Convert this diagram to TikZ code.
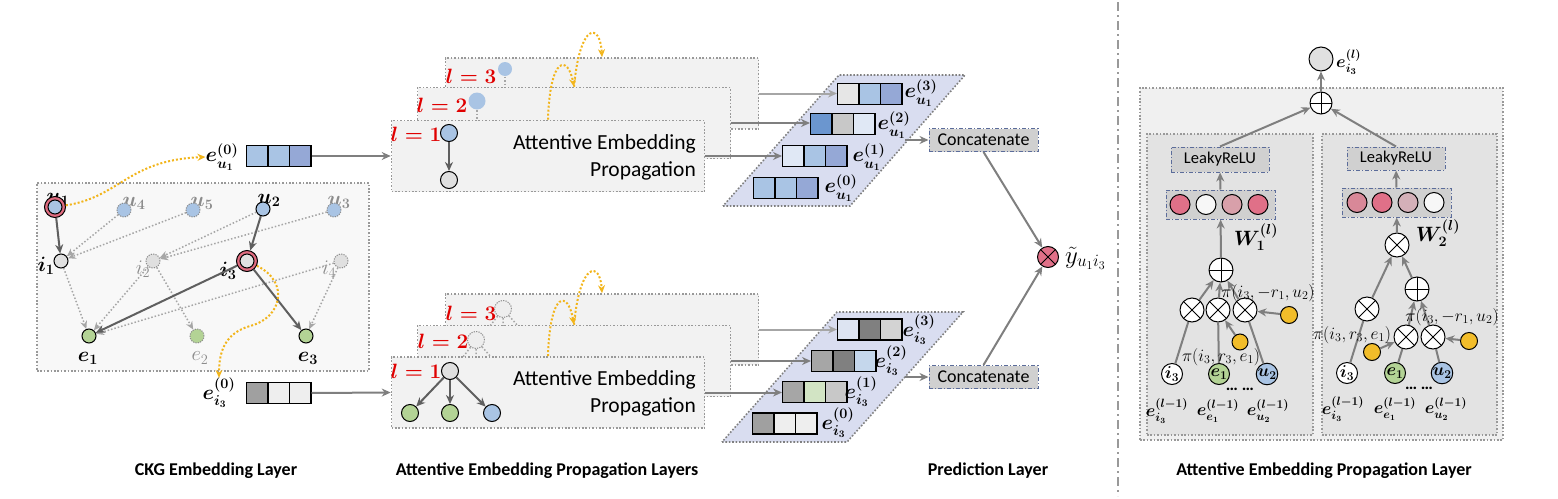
\documentclass[tikz,border=0pt]{standalone}
\usepackage{amsmath, amssymb}
\usepackage[no-math]{fontspec}
\setmainfont{Carlito}
\usepackage{tikz}
\usetikzlibrary{positioning,arrows.meta}

\definecolor{nodeblue}{HTML}{A9C4E4}
\definecolor{nodegreen}{HTML}{B3D395}
\definecolor{nodegray}{HTML}{E0E0E0}
\definecolor{ringred}{HTML}{E06C80}
\definecolor{gold}{HTML}{F2B51C}
\definecolor{lineg}{HTML}{7F7F7F}
\definecolor{darkline}{HTML}{5F5F5F}
\definecolor{ckgfill}{HTML}{F8F8F8}
\definecolor{boxgray}{HTML}{F2F2F2}
\definecolor{lavender}{HTML}{D9DDF0}
\definecolor{slate}{HTML}{5B6C9A}
\definecolor{opgray}{HTML}{D0D0D0}
\definecolor{outerfill}{HTML}{F0F0F0}
\definecolor{innerfill}{HTML}{E3E3E3}
\definecolor{lred}{HTML}{E00000}
\definecolor{vblue}{HTML}{A9C4E4}
\definecolor{vperi}{HTML}{95A8D6}
\definecolor{vpale}{HTML}{E0E8F5}
\definecolor{vmid}{HTML}{6B96CF}
\definecolor{vgray}{HTML}{C8C8C8}
\definecolor{vlight}{HTML}{E6E6E6}
\definecolor{vdark}{HTML}{808080}
\definecolor{vmgray}{HTML}{A6A6A6}
\definecolor{vgreen}{HTML}{D2E4C4}
\definecolor{vsky}{HTML}{C5D7EC}
\definecolor{vwhite}{HTML}{EEEEEE}
\definecolor{vice}{HTML}{DDE4F2}
\definecolor{vsilver}{HTML}{D3D3D3}
\definecolor{vash}{HTML}{A0A0A0}
\definecolor{pinka}{HTML}{E07088}
\definecolor{pinkb}{HTML}{D8A0AA}
\definecolor{pinkc}{HTML}{D88898}
\definecolor{pinkd}{HTML}{D4B0B8}
\definecolor{whitec}{HTML}{F7F7F7}
\definecolor{yellowc}{HTML}{F2BD2A}

\tikzset{main node/.style={circle,draw,line width=1pt,minimum size=14,inner sep=0pt}}
\tikzset{ghost node/.style={main node,draw=black!45,dash pattern=on 1.2pt off 1.2pt}}
\tikzset{ring node/.style={main node,fill=ringred,minimum size=21}}
\tikzset{op node/.style={circle,draw,line width=1pt,fill=white,minimum size=24,inner sep=0pt}}
\tikzset{times node/.style={op node,path picture={\draw[line width=1pt]
  (path picture bounding box.north west) -- (path picture bounding box.south east)
  (path picture bounding box.north east) -- (path picture bounding box.south west);}}}
\tikzset{plus node/.style={op node,path picture={\draw[line width=1pt]
  (path picture bounding box.north) -- (path picture bounding box.south)
  (path picture bounding box.east) -- (path picture bounding box.west);}}}
\tikzset{cell/.style={draw,line width=1.2pt,minimum width=21.3,minimum height=21,inner sep=0pt}}
\tikzset{dot box/.style={draw=black!40,line width=1.6pt,dash pattern=on 1.6pt off 1.8pt,inner sep=0pt}}
\tikzset{prop box/.style={dot box,fill=boxgray,minimum width=313,minimum height=71}}
\tikzset{op box/.style={draw=slate,fill=opgray,line width=1pt,dash pattern=on 4pt off 2pt on 1pt off 2pt,minimum height=23,inner sep=0pt}}
\tikzset{link/.style={draw=lineg,line width=2pt,-{Stealth[length=9pt,width=8pt]}}}
\tikzset{plain link/.style={draw=lineg,line width=2pt}}
\tikzset{solid link/.style={draw=darkline,line width=2pt,-{Stealth[length=9pt,width=8pt]}}}
\tikzset{dot link/.style={draw=black!35,line width=1.5pt,dash pattern=on 1.5pt off 2pt,-{Stealth[length=8pt,width=7pt]}}}
\tikzset{ghost link/.style={draw=black!35,line width=1.5pt,dash pattern=on 1.5pt off 2pt}}
\tikzset{gold link/.style={draw=gold,line width=2pt,dash pattern=on 2pt off 2pt,-{Stealth[length=8pt,width=7pt]}}}
\tikzset{math lbl/.style={inner sep=0pt,font=\fontsize{22}{24}\selectfont}}
\tikzset{emb lbl/.style={inner sep=0pt,font=\fontsize{20.5}{22}\selectfont}}
\tikzset{small lbl/.style={inner sep=0pt,font=\fontsize{17}{19}\selectfont}}
\tikzset{in lbl/.style={font=\fontsize{17}{19}\selectfont}}
\tikzset{layer lbl/.style={inner sep=0pt,text=lred,font=\fontsize{21}{24}\selectfont}}
\tikzset{title lbl/.style={inner sep=0pt,font=\bfseries\fontsize{18}{21}\selectfont}}

% three cells of one embedding
\newcommand{\vecrow}[5]{%
  \node[cell,fill=#3,anchor=west] (#1-1) at (#2) {};
  \node[cell,fill=#4,right=-1pt of #1-1] (#1-2) {};
  \node[cell,fill=#5,right=-1pt of #1-2] (#1-3) {};
}

\begin{document}
\begin{tikzpicture}[x=1pt,y=-1pt]
\useasboundingbox (0,0) rectangle (1558,498);

% CKG embedding layer
\node[dot box,fill=ckgfill,minimum width=332,minimum height=188] (ckg) at (203,277) {};
\node[math lbl] (lu1) at (58,199) {$\boldsymbol{u_1}$};
\node[math lbl,text=black!45] (lu4) at (134,203) {$\boldsymbol{u_4}$};
\node[math lbl,text=black!45] (lu5) at (202,203) {$\boldsymbol{u_5}$};
\node[math lbl] (lu2) at (269,200) {$\boldsymbol{u_2}$};
\node[math lbl,text=black!45] (lu3) at (339,202) {$\boldsymbol{u_3}$};
\node[math lbl] (li1) at (46,266) {$\boldsymbol{i_1}$};
\node[math lbl,text=black!45] (li2) at (143,269) {$i_2$};
\node[math lbl] (li3) at (228,271) {$\boldsymbol{i_3}$};
\node[math lbl,text=black!45] (li4) at (329,269) {$i_4$};
\node[math lbl] (le1) at (88,358) {$\boldsymbol{e_1}$};
\node[math lbl,text=black!45] (le2) at (200,358) {$e_2$};
\node[math lbl] (le3) at (308,358) {$\boldsymbol{e_3}$};

\node[ring node] (u1) at (55,207) {};
\node[main node,fill=nodeblue] (u1c) at (u1) {};
\node[ghost node,fill=nodeblue] (u4) at (124,210) {};
\node[ghost node,fill=nodeblue] (u5) at (193,210) {};
\node[main node,fill=nodeblue] (u2) at (263,209) {};
\node[ghost node,fill=nodeblue] (u3) at (334,210) {};
\node[main node,fill=nodegray] (i1) at (61,261) {};
\node[ghost node,fill=nodegray] (i2) at (153,261) {};
\node[ring node] (i3) at (247,261) {};
\node[main node,fill=nodegray] (i3c) at (i3) {};
\node[ghost node,fill=nodegray] (i4) at (341,261) {};
\node[main node,fill=nodegreen] (e1) at (89,336) {};
\node[ghost node,fill=nodegreen] (e2) at (197,336) {};
\node[main node,fill=nodegreen] (e3) at (306,336) {};

\draw[dot link] (u4) -- (i1);
\draw[dot link] (u5) -- (i1);
\draw[dot link] (u2) -- (i2);
\draw[dot link] (u3) -- (i2);
\draw[dot link] (i1) -- (e1);
\draw[dot link] (i2) -- (e1);
\draw[dot link] (i2) -- (e2);
\draw[dot link] (i4) -- (e1);
\draw[dot link] (i4) -- (e3);
\draw[solid link] (u1) -- (i1);
\draw[solid link] (u2) -- (i3);
\draw[solid link] (i3) -- (e1);
\draw[solid link] (i3) -- (e3);

% initial embeddings
\node[emb lbl] (eu0lbl) at (222,157) {$\boldsymbol{e_{u_1}^{(0)}}$};
\vecrow{eu}{246,156}{vblue}{vblue}{vperi}
\node[emb lbl] (ei0lbl) at (219,393) {$\boldsymbol{e_{i_3}^{(0)}}$};
\vecrow{ei}{246,393}{vash}{vwhite}{vwhite}
\draw[gold link] (u1) .. controls (120,197) and (128,160) .. (eu0lbl.west);
\draw[gold link] (i3) .. controls (290,282) and (282,318) .. (250,326) .. controls (226,333) and (219,350) .. (ei0lbl.north);

% propagation layers, user side
\node[prop box] (tb3) at (602,93.5) {};
\node[layer lbl] (tl3) at (471,76) {$\boldsymbol{l=3}$};
\node[main node,fill=nodeblue,draw=none] (tg3) at (505,69) {};
\coordinate (tg3s) at (505,90);
\draw[ghost link] (tg3) -- (tg3s);
\node[prop box] (tb2) at (574,123) {};
\node[layer lbl] (tl2) at (442,105) {$\boldsymbol{l=2}$};
\node[main node,fill=nodeblue,draw=none,minimum size=17] (tg2) at (477,101) {};
\coordinate (tg2s) at (477,121);
\draw[ghost link] (tg2) -- (tg2s);
\node[prop box] (tb1) at (548,156) {};
\node[layer lbl] (tl1) at (416,134) {$\boldsymbol{l=1}$};
\node[main node,fill=nodeblue,minimum size=17] (ta) at (449,133) {};
\node[main node,fill=nodegray,minimum size=17] (tb) at (449,180) {};
\draw[solid link] (ta) -- (tb);
\node[align=right,anchor=east,inner sep=0pt,font=\fontsize{21.5}{27}\selectfont] (ttxt) at (696,157) {Attentive Embedding\\Propagation};
\draw[gold link] (tb1.north) .. controls (550,55) and (568,55) .. (tb2.north);
\draw[gold link] (tb2.north) .. controls (580,22) and (600,22) .. (tb3.north);
\draw[link] (eu-3.east) -- (tb1.west);

% propagation layers, item side
\node[prop box] (bb3) at (602,329.5) {};
\node[layer lbl] (bl3) at (471,313) {$\boldsymbol{l=3}$};
\node[ghost node,fill=vwhite,minimum size=17] (bg3) at (503,309) {};
\coordinate (bg3a) at (490,326);
\coordinate (bg3b) at (503,326);
\coordinate (bg3c) at (518,326);
\draw[ghost link] (bg3) -- (bg3a) (bg3) -- (bg3b) (bg3) -- (bg3c);
\node[prop box] (bb2) at (574,361) {};
\node[layer lbl] (bl2) at (443,341) {$\boldsymbol{l=2}$};
\node[ghost node,fill=vwhite,minimum size=17] (bg2) at (476,340) {};
\coordinate (bg2a) at (463,357);
\coordinate (bg2b) at (476,357);
\coordinate (bg2c) at (491,357);
\draw[ghost link] (bg2) -- (bg2a) (bg2) -- (bg2b) (bg2) -- (bg2c);
\node[prop box] (bb1) at (548,392.5) {};
\node[layer lbl] (bl1) at (416,371) {$\boldsymbol{l=1}$};
\node[main node,fill=nodegray,minimum size=17] (ba) at (450,371) {};
\node[main node,fill=nodegreen,minimum size=17] (bc1) at (410,413) {};
\node[main node,fill=nodegreen,minimum size=17] (bc2) at (450,413) {};
\node[main node,fill=nodeblue,minimum size=17] (bc3) at (492,413) {};
\draw[solid link] (ba) -- (bc1);
\draw[solid link] (ba) -- (bc2);
\draw[solid link] (ba) -- (bc3);
\node[align=right,anchor=east,inner sep=0pt,font=\fontsize{21.5}{27}\selectfont] (btxt) at (696,393.5) {Attentive Embedding\\Propagation};
\draw[gold link] (bb1.north) .. controls (550,290) and (568,290) .. (bb2.north);
\draw[gold link] (bb2.north) .. controls (580,261) and (600,261) .. (bb3.north);
\draw[link] (ei-3.east) -- (bb1.west);

% layer-wise embeddings
\filldraw[fill=lavender,draw=black!50,line width=1.6pt,dash pattern=on 1.6pt off 1.8pt]
  (723,206) -- (850,206) -- (965,75) -- (839,75) -- cycle;
\vecrow{su3}{837,94}{vlight}{vblue}{vperi}
\vecrow{su2}{810,124}{vmid}{vgray}{vpale}
\vecrow{su1}{782,156}{vpale}{vblue}{vperi}
\vecrow{su0}{753,188}{vblue}{vblue}{vperi}
\node[emb lbl] (lsu3) at (921,93) {$\boldsymbol{e_{u_1}^{(3)}}$};
\node[emb lbl] (lsu2) at (894,125) {$\boldsymbol{e_{u_1}^{(2)}}$};
\node[emb lbl] (lsu1) at (869,157) {$\boldsymbol{e_{u_1}^{(1)}}$};
\node[emb lbl] (lsu0) at (841,188) {$\boldsymbol{e_{u_1}^{(0)}}$};
\draw[link,draw=black!35] (tb3.east) -- (tb3.east -| su3-1.west);
\draw[link] (tb2.east) -- (tb2.east -| su2-1.west);
\draw[link] (tb1.east) -- (tb1.east -| su1-1.west);

\filldraw[fill=lavender,draw=black!50,line width=1.6pt,dash pattern=on 1.6pt off 1.8pt]
  (722,442) -- (847,442) -- (963,312) -- (837,312) -- cycle;
\vecrow{si3}{837,329.5}{vice}{vdark}{vsilver}
\vecrow{si2}{811,361}{vmgray}{vdark}{vsky}
\vecrow{si1}{782,392}{vmgray}{vgreen}{vgray}
\vecrow{si0}{752,423.5}{vash}{vwhite}{vwhite}
\node[emb lbl] (lsi3) at (919,330) {$\boldsymbol{e_{i_3}^{(3)}}$};
\node[emb lbl] (lsi2) at (891,361) {$\boldsymbol{e_{i_3}^{(2)}}$};
\node[emb lbl] (lsi1) at (861,392) {$\boldsymbol{e_{i_3}^{(1)}}$};
\node[emb lbl] (lsi0) at (838,423) {$\boldsymbol{e_{i_3}^{(0)}}$};
\draw[link,draw=black!35] (bb3.east) -- (bb3.east -| si3-1.west);
\draw[link] (bb2.east) -- (bb2.east -| si2-1.west);
\draw[link] (bb1.east) -- (bb1.east -| si1-1.west);

% prediction layer
\node[op box,minimum width=109,font=\fontsize{18}{21}\selectfont] (catu) at (983.5,140) {Concatenate};
\node[op box,minimum width=109,font=\fontsize{18}{21}\selectfont] (cati) at (983.5,377) {Concatenate};
\coordinate (pu) at (905,140);
\coordinate (pi) at (905,377);
\draw[link,line width=1.6pt] (pu) -- (catu);
\draw[link,line width=1.6pt] (pi) -- (cati);
\node[times node,fill=pinka,minimum size=21] (pred) at (1048,257) {};
\node[inner sep=0pt,anchor=west,font=\fontsize{24}{26}\selectfont] (ylbl) at (1065,258) {$\tilde{y}_{u_1 i_3}$};
\draw[link] (catu.south) -- (pred);
\draw[link] (cati.north) -- (pred);

% separator
\draw[black!40,line width=1.2pt,dash pattern=on 9pt off 4pt on 2pt off 4pt] (1118,2) -- (1118,496);

% one propagation layer
\node[dot box,fill=outerfill,minimum width=363,minimum height=352] (apl) at (1321.5,264) {};
\node[dot box,fill=innerfill,minimum width=166,minimum height=301] (agg1) at (1230,284.5) {};
\node[dot box,fill=innerfill,minimum width=175,minimum height=301] (agg2) at (1409.5,284.5) {};
\node[main node,fill=nodegray,minimum size=24] (top) at (1321,59) {};
\node[emb lbl,anchor=west,font=\fontsize{18}{20}\selectfont] (ltop) at (1336,62) {$\boldsymbol{e_{i_3}^{(l)}}$};
\node[plus node,minimum size=22] (sum) at (1321,103) {};

% left aggregator
\node[op box,minimum width=98,minimum height=25,font=\fontsize{16.5}{19}\selectfont] (lrl) at (1220,159.5) {LeakyReLU};
\node[op box,minimum width=109,minimum height=29] (wl) at (1220.5,204.5) {};
\foreach \x/\c [count=\k] in {1180/pinka,1206/whitec,1232/pinkb,1258/pinka}
  \node[main node,fill=\c,minimum size=20] (wl\k) at (\x,204.5) {};
\node[inner sep=0pt,font=\fontsize{22}{24}\selectfont] (lwl) at (1256,237) {$\boldsymbol{W_1^{(l)}}$};
\node[plus node] (lsum) at (1221,270) {};
\node[times node] (lm1) at (1192,310) {};
\node[times node] (lm2) at (1218,310) {};
\node[times node] (lm3) at (1245,310) {};
\node[main node,fill=yellowc,minimum size=16] (lya) at (1240,342) {};
\node[main node,fill=yellowc,minimum size=17] (lyb) at (1289,315) {};
\node[main node,fill=white,minimum size=21,in lbl] (li3n) at (1172,374) {$\boldsymbol{i_3}$};
\node[main node,fill=nodegreen,minimum size=21,in lbl] (le1n) at (1219,374) {$\boldsymbol{e_1}$};
\node[main node,fill=nodeblue,minimum size=21,in lbl] (lu2n) at (1267,374) {$\boldsymbol{u_2}$};
\draw[plain link] (li3n) -- (lm1);
\draw[plain link] (le1n) -- (lm2);
\draw[plain link] (lu2n) -- (lm3);
\draw[link] (lm1) -- (lsum);
\draw[link] (lm2) -- (lsum);
\draw[link] (lm3) -- (lsum);
\draw[link] (lya) -- (lm2);
\draw[link] (lyb) -- (lm3);
\node[small lbl] (lpa) at (1221,357) {$\pi(i_3,r_3,e_1)$};
\node[small lbl] (lpb) at (1268,293) {$\pi(i_3,-r_1,u_2)$};
\node[small lbl] (lei) at (1167,411) {$\boldsymbol{e_{i_3}^{(l-1)}}$};
\node[small lbl] (lee) at (1218,411) {$\boldsymbol{e_{e_1}^{(l-1)}}$};
\node[small lbl] (leu) at (1268,411) {$\boldsymbol{e_{u_2}^{(l-1)}}$};
\node[small lbl] (ldots) at (1240,389) {\textbf{… …}};
\draw[link] (lsum) -- (wl);
\draw[link] (wl) -- (lrl);
\draw[link] (lrl.north) -- (sum);

% right aggregator
\node[op box,minimum width=98,minimum height=23,font=\fontsize{16.5}{19}\selectfont] (lrr) at (1396,158.5) {LeakyReLU};
\node[op box,minimum width=109,minimum height=29] (wr) at (1396.5,202.5) {};
\foreach \x/\c [count=\k] in {1357/pinkc,1382/pinka,1408/pinkd,1434/whitec}
  \node[main node,fill=\c,minimum size=20] (wr\k) at (\x,202.5) {};
\node[inner sep=0pt,font=\fontsize{22}{24}\selectfont] (lwr) at (1438,233) {$\boldsymbol{W_2^{(l)}}$};
\node[times node] (rm0) at (1397,245) {};
\node[times node] (rm1) at (1367,309) {};
\node[plus node] (rsum) at (1417,289) {};
\node[times node] (rma) at (1406,337) {};
\node[times node] (rmb) at (1433,337) {};
\node[main node,fill=yellowc,minimum size=17] (rya) at (1372,352) {};
\node[main node,fill=yellowc,minimum size=17] (ryb) at (1469,341) {};
\node[main node,fill=white,minimum size=21,in lbl] (ri3n) at (1347,373) {$\boldsymbol{i_3}$};
\node[main node,fill=nodegreen,minimum size=21,in lbl] (re1n) at (1395,373) {$\boldsymbol{e_1}$};
\node[main node,fill=nodeblue,minimum size=21,in lbl] (ru2n) at (1442,373) {$\boldsymbol{u_2}$};
\draw[plain link] (ri3n) -- (rm1);
\draw[plain link] (re1n) -- (rma);
\draw[plain link] (ru2n) -- (rmb);
\draw[link] (rm1) -- (rm0);
\draw[link] (rma) -- (rsum);
\draw[link] (rmb) -- (rsum);
\draw[link] (rsum) -- (rm0);
\draw[link] (rya) -- (rma);
\draw[link] (ryb) -- (rmb);
\node[small lbl] (rpa) at (1352,335) {$\pi(i_3,r_3,e_1)$};
\node[small lbl] (rpb) at (1452,317) {$\pi(i_3,-r_1,u_2)$};
\node[small lbl] (rei) at (1343,409) {$\boldsymbol{e_{i_3}^{(l-1)}}$};
\node[small lbl] (ree) at (1395,409) {$\boldsymbol{e_{e_1}^{(l-1)}}$};
\node[small lbl] (reu) at (1446,409) {$\boldsymbol{e_{u_2}^{(l-1)}}$};
\node[small lbl] (rdots) at (1419,388) {\textbf{… …}};
\draw[link] (rm0) -- (wr);
\draw[link] (wr) -- (lrr);
\draw[link] (lrr.north) -- (sum);
\draw[link] (sum) -- (top);

% captions
\node[title lbl] (c1) at (216,471) {CKG Embedding Layer};
\node[title lbl] (c2) at (547,471) {Attentive Embedding Propagation Layers};
\node[title lbl] (c3) at (988,471) {Prediction Layer};
\node[title lbl] (c4) at (1324,471) {Attentive Embedding Propagation Layer};
\end{tikzpicture}
\end{document}
